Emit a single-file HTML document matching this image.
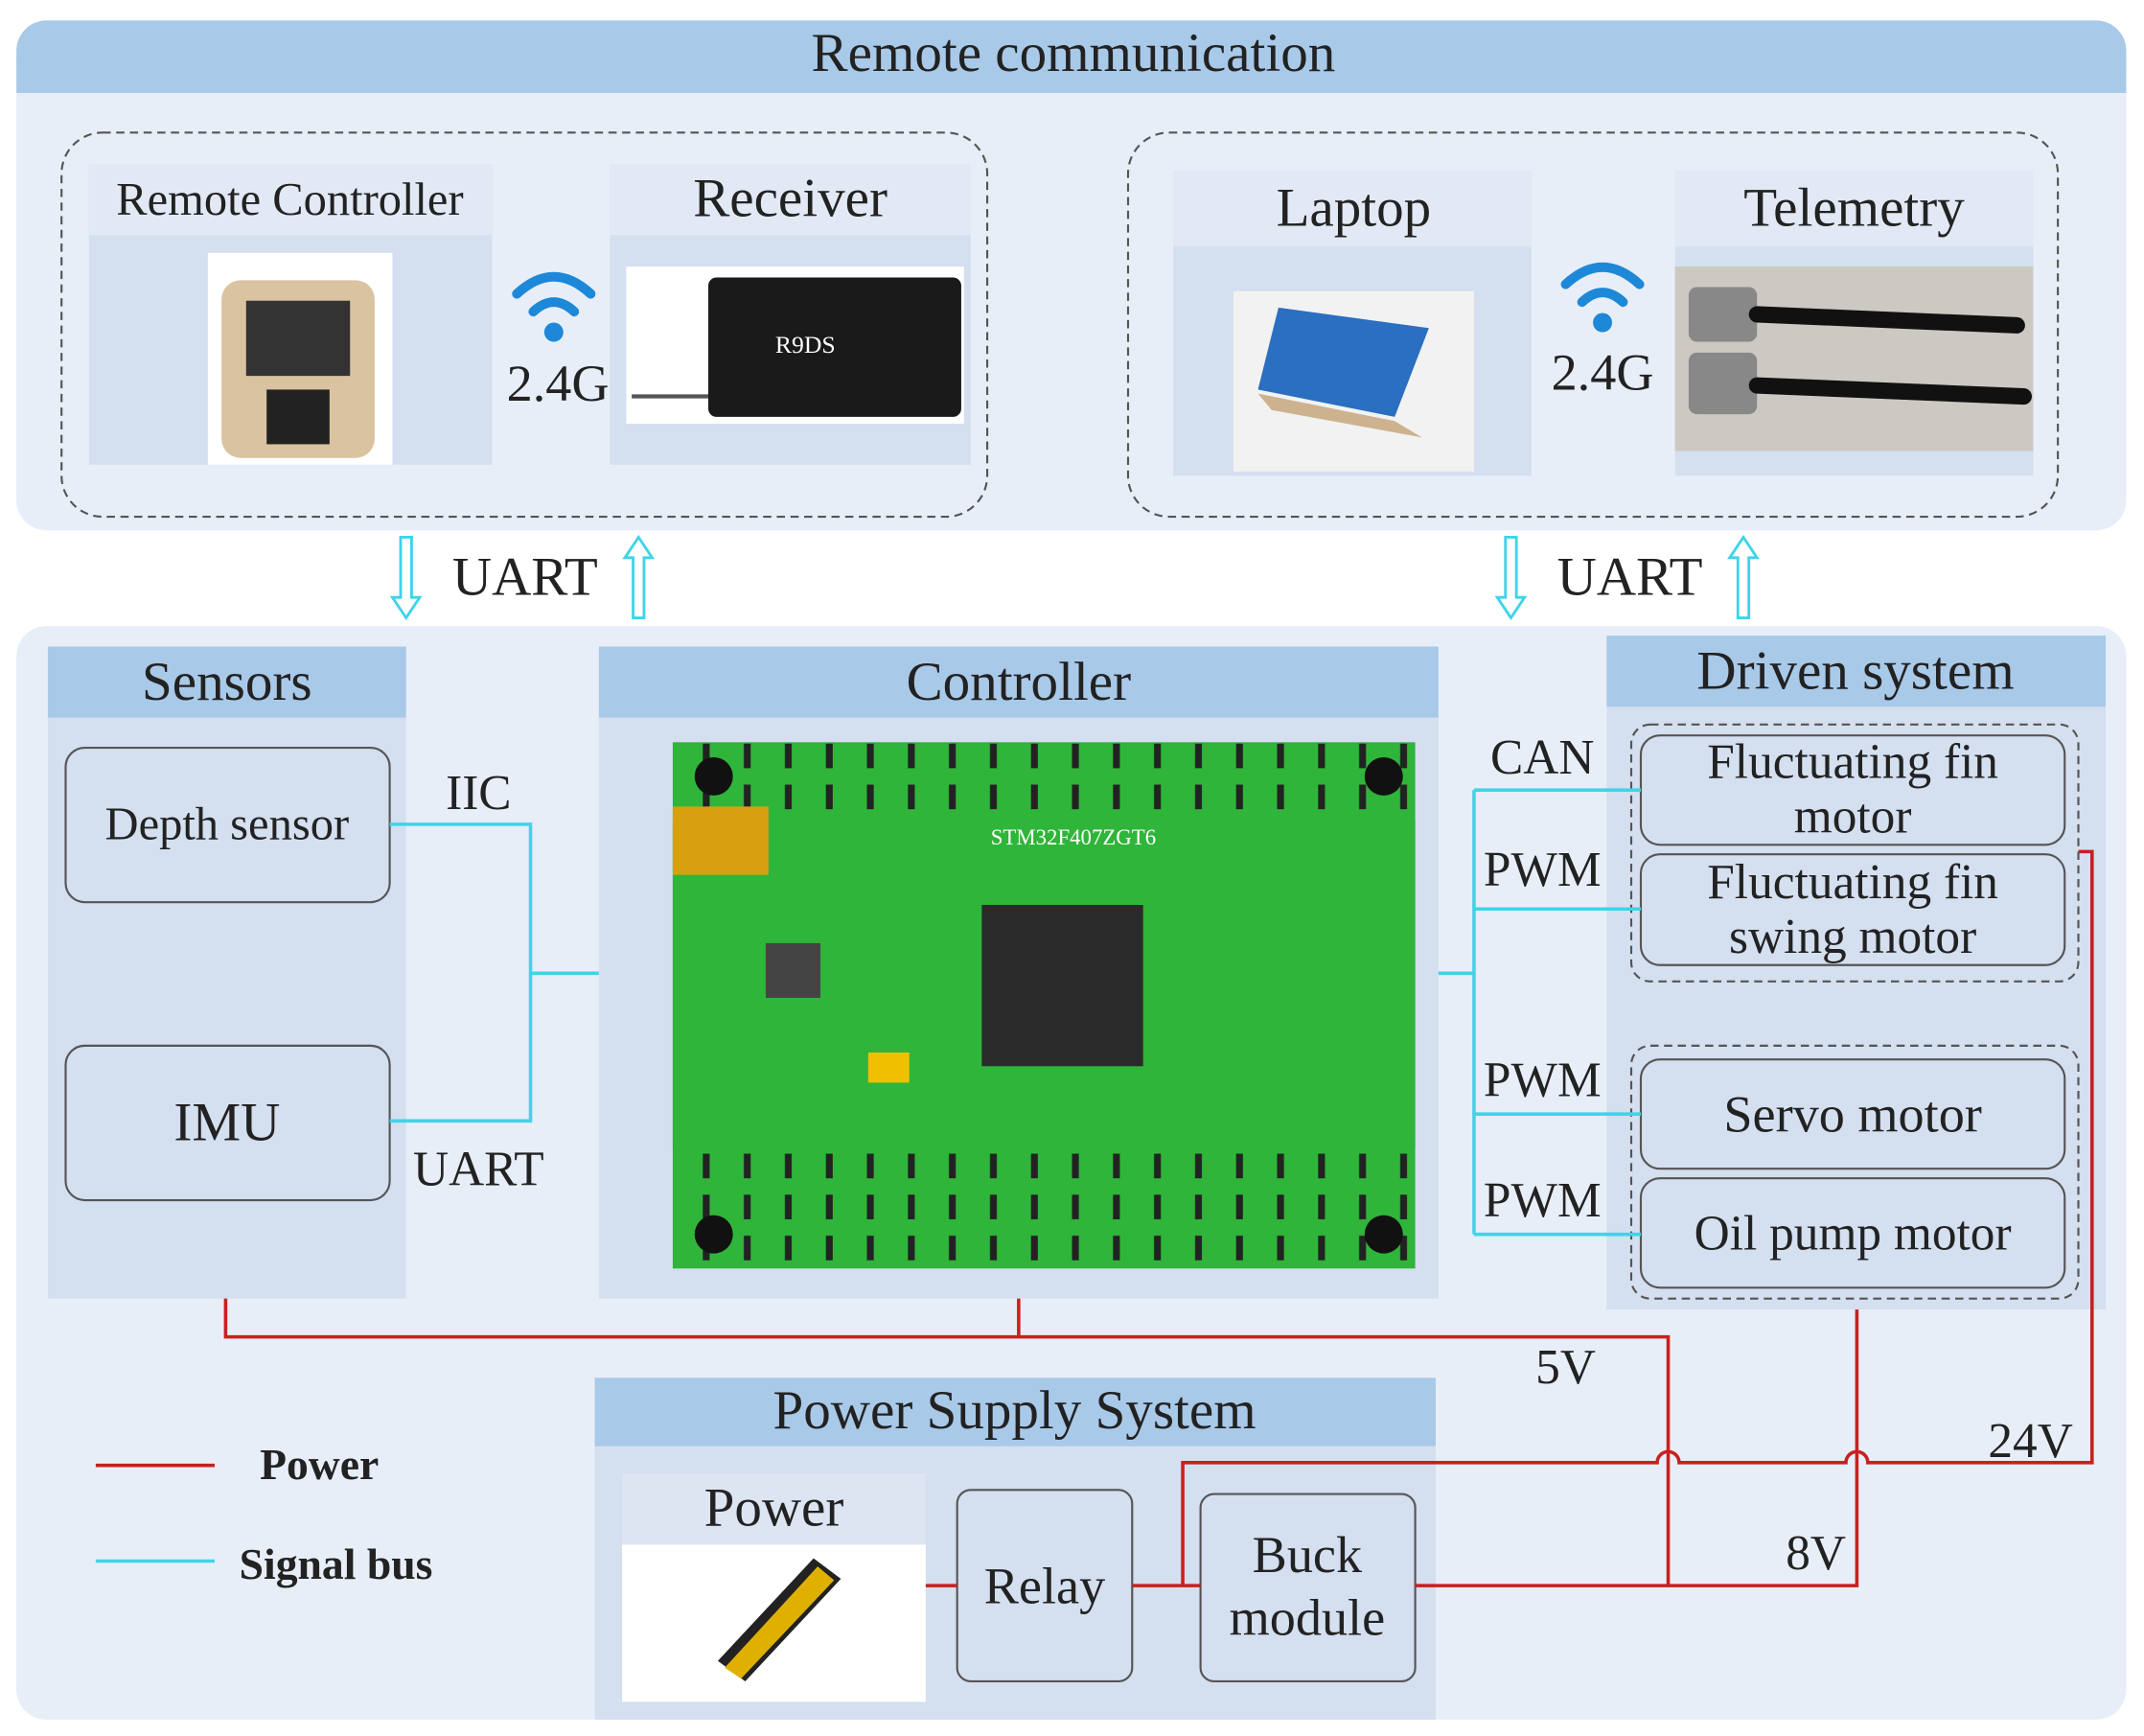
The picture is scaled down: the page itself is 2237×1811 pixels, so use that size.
<!DOCTYPE html>
<html><head><meta charset="utf-8"><style>
html,body{margin:0;padding:0;background:#fff}
svg{display:block}
text{font-family:"Liberation Serif",serif;fill:#222}
</style></head><body>
<svg width="2237" height="1811" viewBox="0 0 1568 1270" xmlns="http://www.w3.org/2000/svg" preserveAspectRatio="none">
<defs>
<pattern id="grn" width="30" height="30" patternUnits="userSpaceOnUse"><rect width="30" height="30" fill="#2fb53a"/><rect x="4" y="4" width="5" height="18" fill="#222"/></pattern>
</defs>
<!-- top panel -->
<rect x="12" y="15" width="1543" height="373" rx="22" fill="#e8eef8"/>
<rect x="12" y="15" width="1543" height="53" rx="22" fill="#a9c9e8"/>
<rect x="12" y="45" width="1543" height="23" fill="#a9c9e8"/>
<text x="785" y="52" font-size="40" text-anchor="middle">Remote communication</text>
<rect x="45" y="97" width="677" height="281" rx="30" fill="none" stroke="#555" stroke-width="1.5" stroke-dasharray="6,4"/>
<rect x="825" y="97" width="680" height="281" rx="30" fill="none" stroke="#555" stroke-width="1.5" stroke-dasharray="6,4"/>
<!-- remote controller -->
<rect x="65" y="120" width="295" height="220" fill="#d4dff0"/>
<rect x="65" y="120" width="295" height="52" fill="#e2e9f5"/>
<text x="212" y="157" font-size="34" text-anchor="middle">Remote Controller</text>
<rect x="152" y="185" width="135" height="155" fill="#fff"/>
<rect x="162" y="205" width="112" height="130" rx="14" fill="#d9c3a0"/>
<rect x="180" y="220" width="76" height="55" fill="#333"/>
<rect x="195" y="285" width="46" height="40" fill="#222"/>
<!-- receiver -->
<rect x="446" y="120" width="264" height="220" fill="#d4dff0"/>
<rect x="446" y="120" width="264" height="52" fill="#e2e9f5"/>
<text x="578" y="158" font-size="40" text-anchor="middle">Receiver</text>
<rect x="458" y="195" width="247" height="115" fill="#fff"/>
<rect x="518" y="203" width="185" height="102" rx="6" fill="#1a1a1a"/>
<text x="567" y="258" font-size="18" fill="#fff" style="fill:#fff" font-family="Liberation Sans">R9DS</text>
<line x1="462" y1="290" x2="518" y2="290" stroke="#555" stroke-width="3"/>
<!-- wifi -->
<g fill="none" stroke="#1e88d8" stroke-width="7" stroke-linecap="round">
<path d="M378 215 Q405 190 432 215"/><path d="M390 228 Q405 214 420 228"/>
<path d="M1145 208 Q1172 183 1199 208"/><path d="M1157 221 Q1172 207 1187 221"/>
</g>
<circle cx="405" cy="243" r="7" fill="#1e88d8"/>
<circle cx="1172" cy="236" r="7" fill="#1e88d8"/>
<text x="408" y="293" font-size="38" text-anchor="middle">2.4G</text>
<text x="1172" y="285" font-size="38" text-anchor="middle">2.4G</text>
<!-- laptop -->
<rect x="858" y="125" width="262" height="223" fill="#d4dff0"/>
<rect x="858" y="125" width="262" height="55" fill="#e2e9f5"/>
<text x="990" y="165" font-size="40" text-anchor="middle">Laptop</text>
<rect x="902" y="213" width="176" height="132" fill="#f2f2f2"/>
<polygon points="935,225 1045,240 1020,305 920,285" fill="#2a6fc0"/>
<polygon points="920,288 1020,308 1040,320 930,300" fill="#cdb290"/>
<!-- telemetry -->
<rect x="1225" y="125" width="262" height="223" fill="#d4dff0"/>
<rect x="1225" y="125" width="262" height="55" fill="#e2e9f5"/>
<text x="1356" y="165" font-size="40" text-anchor="middle">Telemetry</text>
<rect x="1225" y="195" width="262" height="135" fill="#ccc8c2"/>
<rect x="1235" y="210" width="50" height="40" rx="6" fill="#888"/>
<rect x="1235" y="258" width="50" height="45" rx="6" fill="#888"/>
<line x1="1285" y1="230" x2="1475" y2="238" stroke="#111" stroke-width="12" stroke-linecap="round"/>
<line x1="1285" y1="282" x2="1480" y2="290" stroke="#111" stroke-width="12" stroke-linecap="round"/>
<!-- UART arrows -->
<g fill="#fff" stroke="#3fd4e8" stroke-width="2">
<polygon points="293,393 301,393 301,437 307,437 297,452 287,437 293,437"/>
<polygon points="463,452 471,452 471,408 477,408 467,393 457,408 463,408"/>
<polygon points="1101,393 1109,393 1109,437 1115,437 1105,452 1095,437 1101,437"/>
<polygon points="1271,452 1279,452 1279,408 1285,408 1275,393 1265,408 1271,408"/>
</g>
<text x="384" y="435" font-size="40" text-anchor="middle">UART</text>
<text x="1192" y="435" font-size="40" text-anchor="middle">UART</text>
<!-- bottom panel -->
<rect x="12" y="458" width="1543" height="800" rx="22" fill="#e8eef8"/>
<!-- sensors -->
<rect x="35" y="473" width="262" height="477" fill="#d4dff0"/>
<rect x="35" y="473" width="262" height="52" fill="#a9c9e8"/>
<text x="166" y="512" font-size="40" text-anchor="middle">Sensors</text>
<rect x="48" y="547" width="237" height="113" rx="14" fill="#d4dff0" stroke="#555" stroke-width="1.5"/>
<text x="166" y="614" font-size="34" text-anchor="middle">Depth sensor</text>
<rect x="48" y="765" width="237" height="113" rx="14" fill="#d4dff0" stroke="#555" stroke-width="1.5"/>
<text x="166" y="834" font-size="40" text-anchor="middle">IMU</text>
<!-- controller -->
<rect x="438" y="473" width="614" height="477" fill="#d4dff0"/>
<rect x="438" y="473" width="614" height="52" fill="#a9c9e8"/>
<text x="745" y="512" font-size="40" text-anchor="middle">Controller</text>
<rect x="492" y="543" width="543" height="385" fill="url(#grn)"/>
<rect x="492" y="600" width="543" height="240" fill="#2fb53a"/>
<rect x="718" y="662" width="118" height="118" fill="#2a2a2a"/>
<rect x="492" y="590" width="70" height="50" fill="#d8a010"/>
<circle cx="522" cy="568" r="14" fill="#111"/><circle cx="1012" cy="568" r="14" fill="#111"/>
<circle cx="522" cy="903" r="14" fill="#111"/><circle cx="1012" cy="903" r="14" fill="#111"/>
<rect x="635" y="770" width="30" height="22" fill="#f0c000"/>
<rect x="560" y="690" width="40" height="40" fill="#444"/>
<text x="785" y="618" font-size="16" style="fill:#fff" text-anchor="middle">STM32F407ZGT6</text>
<!-- driven system -->
<rect x="1175" y="465" width="365" height="493" fill="#d4dff0"/>
<rect x="1175" y="465" width="365" height="52" fill="#a9c9e8"/>
<text x="1357" y="504" font-size="40" text-anchor="middle">Driven system</text>
<rect x="1193" y="530" width="327" height="188" rx="14" fill="none" stroke="#555" stroke-width="1.5" stroke-dasharray="6,4"/>
<rect x="1193" y="765" width="327" height="185" rx="14" fill="none" stroke="#555" stroke-width="1.5" stroke-dasharray="6,4"/>
<g fill="#d4dff0" stroke="#555" stroke-width="1.5">
<rect x="1200" y="538" width="310" height="80" rx="14"/>
<rect x="1200" y="625" width="310" height="81" rx="14"/>
<rect x="1200" y="775" width="310" height="80" rx="14"/>
<rect x="1200" y="862" width="310" height="80" rx="14"/>
</g>
<text x="1355" y="569" font-size="36" text-anchor="middle">Fluctuating fin</text>
<text x="1355" y="609" font-size="36" text-anchor="middle">motor</text>
<text x="1355" y="657" font-size="36" text-anchor="middle">Fluctuating fin</text>
<text x="1355" y="697" font-size="36" text-anchor="middle">swing motor</text>
<text x="1355" y="828" font-size="38" text-anchor="middle">Servo motor</text>
<text x="1355" y="914" font-size="36" text-anchor="middle">Oil pump motor</text>
<!-- signal lines -->
<g fill="none" stroke="#3fd4e8" stroke-width="2.5">
<path d="M285 603 H388 V820 H285"/><path d="M388 712 H438"/>
<path d="M1052 712 H1078"/><path d="M1078 578 V903"/>
<path d="M1078 578 H1200 M1078 665 H1200 M1078 815 H1200 M1078 903 H1200"/>
</g>
<text x="350" y="592" font-size="36" text-anchor="middle">IIC</text>
<text x="350" y="867" font-size="36" text-anchor="middle">UART</text>
<text x="1128" y="566" font-size="36" text-anchor="middle">CAN</text>
<text x="1128" y="648" font-size="36" text-anchor="middle">PWM</text>
<text x="1128" y="802" font-size="36" text-anchor="middle">PWM</text>
<text x="1128" y="890" font-size="36" text-anchor="middle">PWM</text>
<!-- power supply -->
<rect x="435" y="1008" width="615" height="250" fill="#d4dff0"/>
<rect x="435" y="1008" width="615" height="50" fill="#a9c9e8"/>
<text x="742" y="1045" font-size="40" text-anchor="middle">Power Supply System</text>
<rect x="455" y="1078" width="222" height="167" fill="#dde5f3"/>
<text x="566" y="1116" font-size="40" text-anchor="middle">Power</text>
<rect x="455" y="1130" width="222" height="115" fill="#fff"/>
<polygon points="525,1215 595,1140 615,1155 545,1230" fill="#222"/>
<polygon points="530,1220 598,1146 610,1156 542,1228" fill="#e0b000"/>
<rect x="700" y="1090" width="128" height="140" rx="10" fill="#d4dff0" stroke="#555" stroke-width="1.5"/>
<text x="764" y="1173" font-size="38" text-anchor="middle">Relay</text>
<rect x="878" y="1093" width="157" height="137" rx="10" fill="#d4dff0" stroke="#555" stroke-width="1.5"/>
<text x="956" y="1150" font-size="38" text-anchor="middle">Buck</text>
<text x="956" y="1196" font-size="38" text-anchor="middle">module</text>
<!-- power lines -->
<g fill="none" stroke="#c8201e" stroke-width="2.5">
<path d="M165 950 V978 H1220 V1160"/><path d="M745 950 V978"/>
<path d="M1035 1160 H1358 V958"/>
<path d="M865 1160 V1070 H1212 A8 8 0 0 1 1228 1070 H1350 A8 8 0 0 1 1366 1070 H1530 V623 H1520"/>
<path d="M828 1160 H878"/><path d="M677 1160 H700"/>
<path d="M70 1072 H157"/>
</g>
<path d="M70 1142 H157" stroke="#3fd4e8" stroke-width="2.5"/>
<text x="1145" y="1012" font-size="36" text-anchor="middle">5V</text>
<text x="1328" y="1148" font-size="36" text-anchor="middle">8V</text>
<text x="1485" y="1066" font-size="36" text-anchor="middle">24V</text>
<text x="190" y="1082" font-size="32" font-weight="bold">Power</text>
<text x="175" y="1155" font-size="32" font-weight="bold">Signal bus</text>
</svg>
</body></html>
